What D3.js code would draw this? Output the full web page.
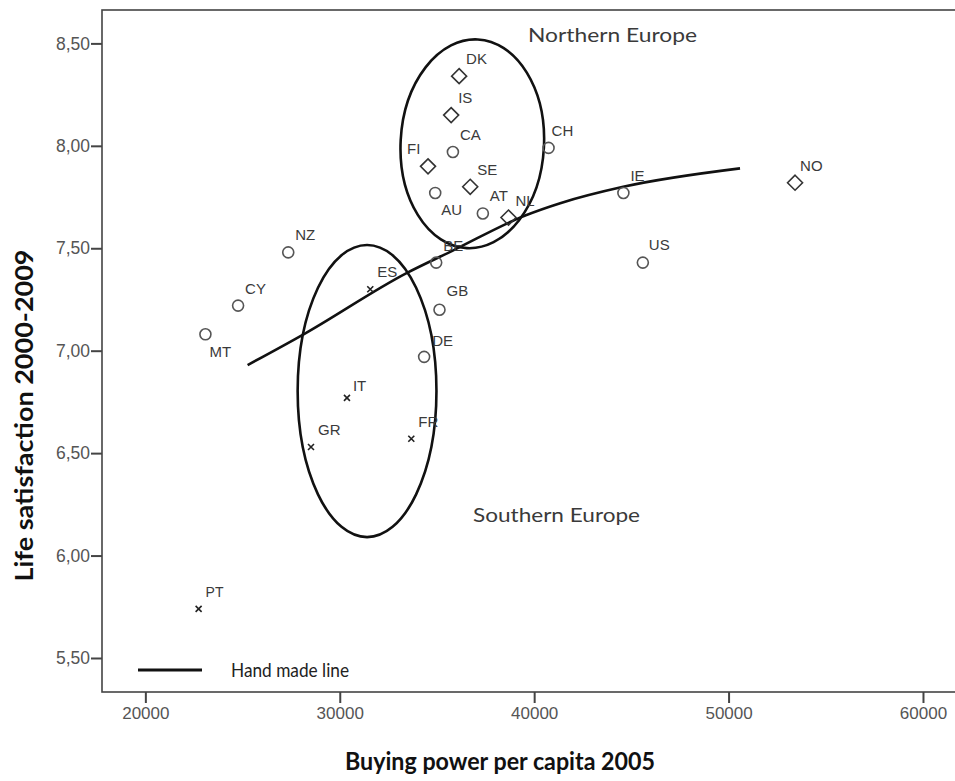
<!DOCTYPE html>
<html>
<head>
<meta charset="utf-8">
<script src="https://cdn.jsdelivr.net/npm/d3@7"></script>
<style>
  html, body { margin: 0; padding: 0; background: #fff; }
  svg { display: block; }
</style>
</head>
<body>
<svg id="chart" width="955" height="781"></svg>
<script>
// ---- data ----
const countries = ["DK","IS","CA","FI","AU","SE","AT","NL","CH","NZ","CY","MT","ES","BE","GB","DE","IT","GR","FR","IE","US","NO","PT"];
const buyingPower = [36140,35730,35820,34540,34910,36710,37360,38680,40740,27350,24770,23090,31570,34960,35130,34340,30370,28520,33680,44590,45590,53420,22740];
const lifeSatisfaction = [8.34,8.15,7.97,7.90,7.77,7.80,7.67,7.65,7.99,7.48,7.22,7.08,7.30,7.43,7.20,6.97,6.77,6.53,6.57,7.77,7.43,7.82,5.74];
const groups = ["Nordic","Nordic","Other","Nordic","Other","Nordic","Other","Nordic","Other","Other","Other","Other","Southern","Other","Other","Other","Southern","Southern","Southern","Other","Other","Nordic","Southern"];

const handLineX = [25260,28140,33460,35840,39540,41340,44580,50590];
const handLineY = [6.93,7.08,7.38,7.49,7.66,7.72,7.80,7.89];

const regionNames = ["Northern Europe","Southern Europe"];
const regionCenterX = [36818,31404];
const regionCenterY = [8.010,6.803];
const regionRadiusX = [3688,3570];
const regionRadiusY = [0.510,0.713];

const xTicks = [20000,30000,40000,50000,60000];
const yTicks = [5.5,6.0,6.5,7.0,7.5,8.0,8.5];

const xTitle = "Buying power per capita 2005";
const yTitle = "Life satisfaction 2000-2009";
const legendLabel = "Hand made line";

// ---- layout / style ----
const svg = d3.select("#chart");
const plot = {left: 102, right: 957, top: 10, bottom: 692};
const x = d3.scaleLinear().domain([17770, 61750]).range([plot.left, plot.right]);
const y = d3.scaleLinear().domain([5.334, 8.663]).range([plot.bottom, plot.top]);

const axisColor = "#444";
const tickTextColor = "#555";

// frame (top + left + bottom; right edge falls outside the picture)
svg.append("rect")
  .attr("x", plot.left).attr("y", plot.top)
  .attr("width", plot.right - plot.left).attr("height", plot.bottom - plot.top)
  .attr("fill", "none").attr("stroke", axisColor).attr("stroke-width", 1.6);

const fmtY = v => d3.format(".2f")(v).replace(".", ",");

// y axis
const yAxis = svg.append("g")
  .attr("transform", `translate(${plot.left},0)`)
  .call(d3.axisLeft(y).tickValues(yTicks).tickFormat(fmtY).tickSize(11).tickPadding(1));
yAxis.select(".domain").remove();
yAxis.selectAll(".tick line").attr("stroke", axisColor).attr("stroke-width", 2);
yAxis.selectAll(".tick text")
  .attr("fill", tickTextColor)
  .style("font-family", "'Liberation Sans', Arial, sans-serif")
  .style("font-size", "17.5px");

// x axis
const xAxis = svg.append("g")
  .attr("transform", `translate(0,${plot.bottom})`)
  .call(d3.axisBottom(x).tickValues(xTicks).tickFormat(d3.format("d")).tickSize(11).tickPadding(4));
xAxis.select(".domain").remove();
xAxis.selectAll(".tick line").attr("stroke", axisColor).attr("stroke-width", 2);
xAxis.selectAll(".tick text")
  .attr("fill", tickTextColor)
  .style("font-family", "'Liberation Sans', Arial, sans-serif")
  .style("font-size", "17px");

// axis titles
svg.append("text")
  .attr("x", 500)
  .attr("y", 770)
  .attr("text-anchor", "middle")
  .attr("textLength", 310).attr("lengthAdjust", "spacingAndGlyphs")
  .style("font-family", "Lato, 'Open Sans', sans-serif")
  .style("font-weight", "bold")
  .style("font-size", "24px")
  .attr("fill", "#111")
  .text(xTitle);

svg.append("text")
  .attr("transform", `translate(32.5,${415.5}) rotate(-90)`)
  .attr("text-anchor", "middle")
  .attr("textLength", 332).attr("lengthAdjust", "spacingAndGlyphs")
  .style("font-family", "Lato, 'Open Sans', sans-serif")
  .style("font-weight", "bold")
  .style("font-size", "24px")
  .attr("fill", "#111")
  .text(yTitle);

// region ellipses
const regionRotation = [3, 0];
regionNames.forEach((name, i) => {
  const cx = x(regionCenterX[i]), cy = y(regionCenterY[i]);
  const rx = x(regionCenterX[i] + regionRadiusX[i]) - cx;
  const ry = cy - y(regionCenterY[i] + regionRadiusY[i]);
  svg.append("ellipse")
    .attr("cx", cx).attr("cy", cy).attr("rx", rx).attr("ry", ry)
    .attr("transform", `rotate(${regionRotation[i]},${cx},${cy})`)
    .attr("fill", "none").attr("stroke", "#111").attr("stroke-width", 2.6);
});

// region labels
const regionLabelPos = [{x: 528, y: 41.7, w: 169}, {x: 473, y: 522, w: 167}];
regionNames.forEach((name, i) => {
  svg.append("text")
    .attr("x", regionLabelPos[i].x).attr("y", regionLabelPos[i].y)
    .attr("textLength", regionLabelPos[i].w).attr("lengthAdjust", "spacingAndGlyphs")
    .style("font-family", "Lato, 'Open Sans', sans-serif")
    .style("font-size", "20px")
    .attr("fill", "#3a3a3a")
    .text(name);
});

// hand made line
const linePts = handLineX.map((v, i) => [v, handLineY[i]]);
svg.append("path")
  .datum(linePts)
  .attr("d", d3.line().x(d => x(d[0])).y(d => y(d[1])).curve(d3.curveMonotoneX))
  .attr("fill", "none").attr("stroke", "#111").attr("stroke-width", 2.6);

// points
const points = countries.map((c, i) => ({c, bx: buyingPower[i], ls: lifeSatisfaction[i], g: groups[i]}));
const markerColor = {Nordic: "#333", Other: "#555", Southern: "#222"};
const diamondPath = "M0,-7.5L7.5,0L0,7.5L-7.5,0Z";
const crossPath = "M-3,-3L3,3M-3,3L3,-3";

const pg = svg.append("g");
points.forEach(p => {
  const g = pg.append("g").attr("transform", `translate(${x(p.bx)},${y(p.ls)})`);
  if (p.g === "Other") {
    g.append("circle").attr("r", 5.5).attr("fill", "none")
      .attr("stroke", markerColor[p.g]).attr("stroke-width", 1.6);
  } else if (p.g === "Nordic") {
    g.append("path").attr("d", diamondPath).attr("fill", "none")
      .attr("stroke", markerColor[p.g]).attr("stroke-width", 1.6);
  } else {
    g.append("path").attr("d", crossPath).attr("fill", "none")
      .attr("stroke", markerColor[p.g]).attr("stroke-width", 1.6);
  }
});

// point labels
const defaultOffset = {dx: 7, dy: -12};
const labelOffsets = {FI: {dx: -21, dy: -12}, AU: {dx: 6, dy: 22}, MT: {dx: 4, dy: 23}, CH: {dx: 3, dy: -12},
  IT: {dx: 6, dy: -7}, GB: {dx: 7, dy: -14}, DE: {dx: 8, dy: -11}, US: {dx: 6, dy: -13}, NO: {dx: 5, dy: -12}};
points.forEach(p => {
  const o = labelOffsets[p.c] || defaultOffset;
  svg.append("text")
    .attr("x", x(p.bx) + o.dx).attr("y", y(p.ls) + o.dy)
    .style("font-family", "'Liberation Sans', Arial, sans-serif")
    .style("font-size", p.c === "PT" ? "14px" : "15px")
    .attr("fill", "#3a3a3a")
    .text(p.c);
});

// legend
svg.append("line")
  .attr("x1", 138).attr("x2", 202).attr("y1", 670).attr("y2", 670)
  .attr("stroke", "#111").attr("stroke-width", 3);
svg.append("text")
  .attr("x", 231).attr("y", 677)
  .attr("textLength", 118).attr("lengthAdjust", "spacingAndGlyphs")
  .style("font-family", "Lato, 'Open Sans', sans-serif")
  .style("font-size", "20px")
  .attr("fill", "#222")
  .text(legendLabel);
</script>
</body>
</html>
